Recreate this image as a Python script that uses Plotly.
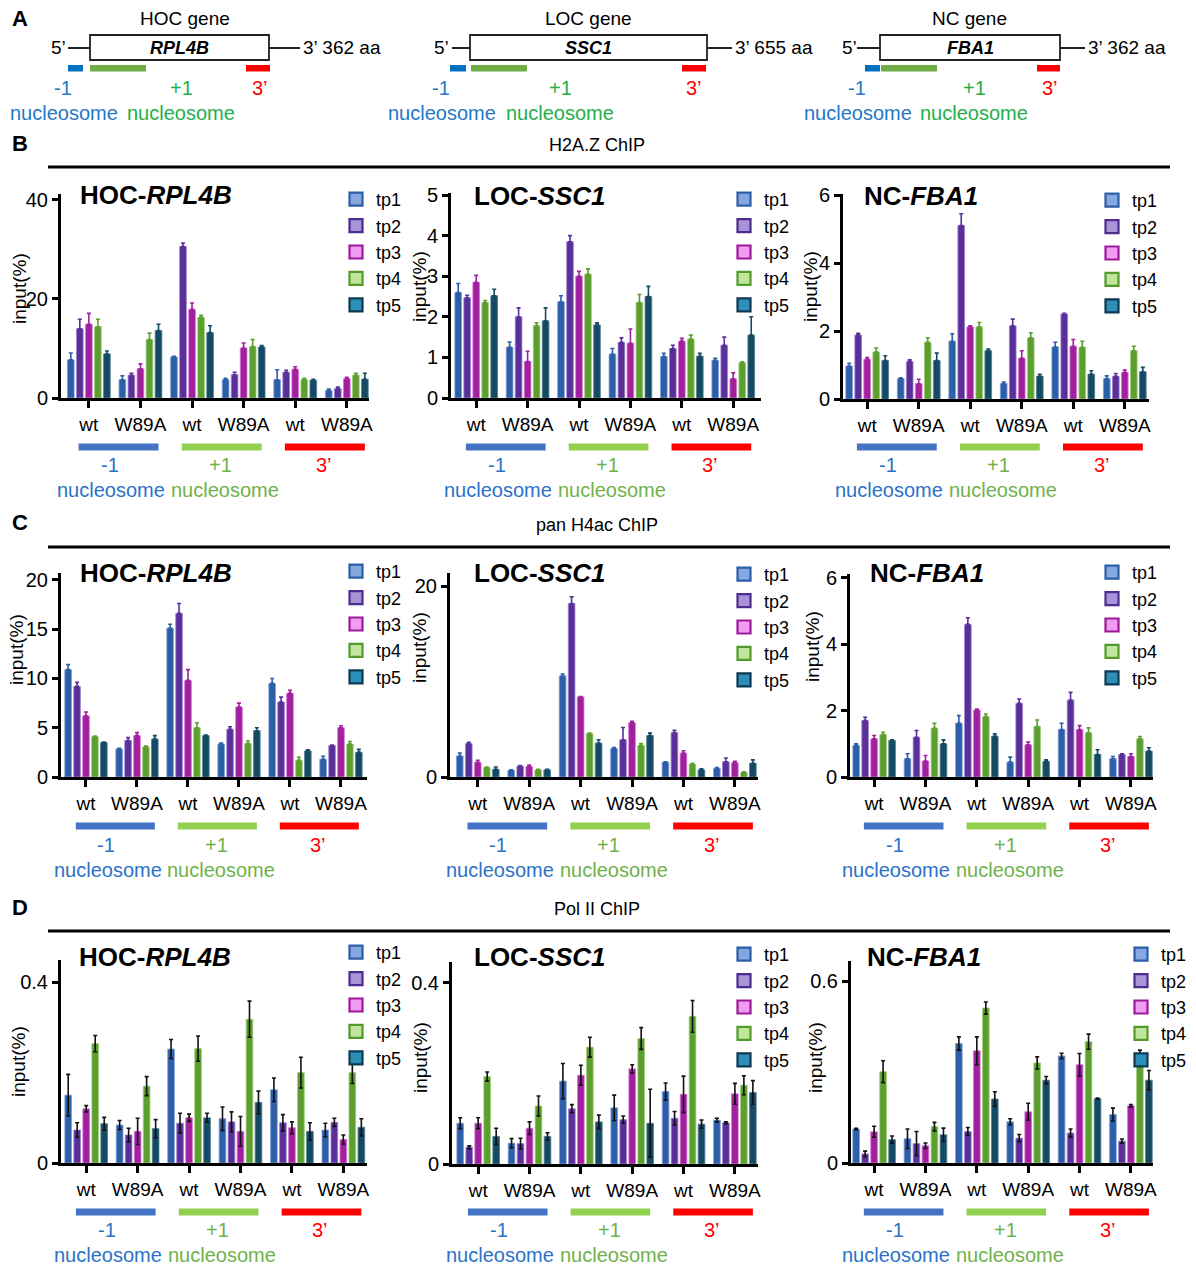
import plotly.graph_objects as go

W, H = 1196, 1266
def px(x): return x / W
def py(y): return 1 - y / H

FONT = "Arial, 'Liberation Sans', Helvetica, sans-serif"

TP_NAMES = ["tp1", "tp2", "tp3", "tp4", "tp5"]
GROUP_TICKS = ["wt", "W89A", "wt", "W89A", "wt", "W89A"]
REGION_LABELS = ["-1", "+1", "3’"]

# ---------- data (rows = tp1..tp5, columns = 6 groups) ----------
H2AZ_HOC_MEAN = [[7.7, 3.7, 8.3, 3.7, 3.7, 1.5],
                 [14.0, 4.6, 30.6, 4.7, 5.2, 1.9],
                 [14.9, 5.9, 17.9, 10.1, 5.8, 3.9],
                 [14.4, 11.8, 16.3, 10.4, 3.7, 4.6],
                 [8.9, 13.6, 13.2, 10.3, 3.6, 3.8]]
H2AZ_HOC_ERR = [[1.4, 0.8, 0.1, 0.3, 2.0, 0.3],
                [1.9, 0.4, 0.7, 0.5, 0.4, 0.3],
                [2.2, 1.0, 1.3, 1.0, 0.5, 0.3],
                [1.5, 1.3, 0.4, 1.4, 0.3, 0.4],
                [0.6, 1.3, 1.4, 0.3, 0.2, 1.2]]
H2AZ_LOC_MEAN = [[2.6, 1.25, 2.37, 1.08, 1.02, 0.93],
                 [2.47, 2.0, 3.85, 1.37, 1.22, 1.3],
                 [2.85, 0.9, 3.0, 1.35, 1.4, 0.47],
                 [2.35, 1.78, 3.05, 2.35, 1.45, 0.87],
                 [2.52, 1.9, 1.8, 2.5, 1.03, 1.55]]
H2AZ_LOC_ERR = [[0.22, 0.13, 0.15, 0.14, 0.08, 0.05],
                [0.06, 0.22, 0.15, 0.11, 0.08, 0.2],
                [0.17, 0.25, 0.12, 0.35, 0.07, 0.15],
                [0.05, 0.07, 0.13, 0.2, 0.1, 0.02],
                [0.16, 0.32, 0.05, 0.25, 0.07, 0.45]]
H2AZ_NC_MEAN = [[0.97, 0.6, 1.7, 0.45, 1.53, 0.6],
                [1.88, 1.1, 5.1, 2.15, 2.5, 0.67],
                [1.17, 0.45, 2.12, 1.2, 1.55, 0.78],
                [1.38, 1.67, 2.12, 1.8, 1.52, 1.42],
                [1.13, 1.13, 1.42, 0.67, 0.73, 0.8]]
H2AZ_NC_ERR = [[0.08, 0.02, 0.22, 0.05, 0.14, 0.08],
               [0.05, 0.05, 0.35, 0.2, 0.02, 0.08],
               [0.05, 0.13, 0.03, 0.22, 0.2, 0.07],
               [0.12, 0.13, 0.13, 0.15, 0.18, 0.13],
               [0.14, 0.22, 0.05, 0.06, 0.1, 0.13]]

H4AC_HOC_MEAN = [[10.9, 2.85, 15.1, 3.35, 9.5, 1.8],
                 [9.2, 3.7, 16.6, 4.85, 7.6, 3.2],
                 [6.2, 4.2, 9.8, 7.1, 8.5, 5.0],
                 [4.1, 3.05, 5.0, 3.4, 1.7, 3.35],
                 [3.5, 3.85, 4.2, 4.7, 2.65, 2.5]]
H4AC_HOC_ERR = [[0.5, 0.05, 0.4, 0.1, 0.5, 0.3],
                [0.4, 0.3, 1.0, 0.25, 0.5, 0.05],
                [0.4, 0.3, 1.1, 0.4, 0.3, 0.2],
                [0.05, 0.1, 0.5, 0.25, 0.3, 0.25],
                [0.05, 0.35, 0.05, 0.3, 0.1, 0.3]]
H4AC_LOC_MEAN = [[2.2, 0.7, 10.6, 3.0, 1.55, 0.9],
                 [3.5, 1.15, 18.2, 3.9, 4.65, 1.6],
                 [1.55, 1.1, 8.4, 5.7, 2.5, 1.5],
                 [1.0, 0.75, 4.55, 3.3, 1.35, 0.5],
                 [0.8, 0.75, 3.55, 4.35, 0.75, 1.45]]
H4AC_LOC_ERR = [[0.3, 0.05, 0.2, 0.1, 0.05, 0.1],
                [0.15, 0.05, 0.7, 1.3, 0.25, 0.4],
                [0.2, 0.15, 0.05, 0.15, 0.25, 0.15],
                [0.05, 0.05, 0.05, 0.2, 0.1, 0.05],
                [0.25, 0.05, 0.35, 0.25, 0.1, 0.35]]
H4AC_NC_MEAN = [[0.95, 0.55, 1.62, 0.45, 1.43, 0.55],
                [1.7, 1.2, 4.6, 2.22, 2.32, 0.68],
                [1.15, 0.48, 2.02, 0.97, 1.43, 0.62],
                [1.28, 1.47, 1.82, 1.52, 1.33, 1.15],
                [1.1, 1.0, 1.23, 0.47, 0.68, 0.78]]
H4AC_NC_ERR = [[0.05, 0.15, 0.23, 0.15, 0.19, 0.07],
               [0.1, 0.2, 0.2, 0.13, 0.23, 0.02],
               [0.1, 0.17, 0.03, 0.08, 0.12, 0.08],
               [0.07, 0.15, 0.08, 0.2, 0.15, 0.07],
               [0.02, 0.12, 0.07, 0.05, 0.14, 0.1]]

POL2_HOC_MEAN = [[0.150, 0.084, 0.252, 0.098, 0.162, 0.073],
                 [0.073, 0.062, 0.088, 0.091, 0.089, 0.090],
                 [0.120, 0.070, 0.100, 0.070, 0.078, 0.052],
                 [0.264, 0.170, 0.253, 0.318, 0.200, 0.200],
                 [0.087, 0.076, 0.100, 0.134, 0.070, 0.079]]
POL2_HOC_ERR = [[0.046, 0.010, 0.021, 0.026, 0.026, 0.015],
                [0.016, 0.015, 0.022, 0.022, 0.018, 0.009],
                [0.007, 0.029, 0.008, 0.033, 0.013, 0.010],
                [0.018, 0.021, 0.028, 0.040, 0.034, 0.024],
                [0.014, 0.020, 0.010, 0.025, 0.019, 0.019]]
POL2_LOC_MEAN = [[0.090, 0.046, 0.183, 0.124, 0.160, 0.097],
                 [0.037, 0.045, 0.122, 0.098, 0.101, 0.091],
                 [0.090, 0.079, 0.196, 0.210, 0.154, 0.155],
                 [0.193, 0.128, 0.258, 0.277, 0.326, 0.174],
                 [0.061, 0.061, 0.093, 0.090, 0.088, 0.158]]
POL2_LOC_ERR = [[0.012, 0.010, 0.039, 0.028, 0.019, 0.004],
                [0.003, 0.012, 0.009, 0.008, 0.015, 0.002],
                [0.012, 0.014, 0.022, 0.009, 0.040, 0.023],
                [0.010, 0.022, 0.022, 0.024, 0.035, 0.021],
                [0.018, 0.008, 0.015, 0.075, 0.009, 0.026]]
POL2_NC_MEAN = [[0.112, 0.080, 0.394, 0.136, 0.353, 0.160],
                [0.030, 0.064, 0.104, 0.082, 0.099, 0.072],
                [0.103, 0.057, 0.370, 0.169, 0.324, 0.189],
                [0.301, 0.120, 0.511, 0.330, 0.400, 0.354],
                [0.077, 0.093, 0.211, 0.273, 0.212, 0.273]]
POL2_NC_ERR = [[0.002, 0.032, 0.022, 0.010, 0.009, 0.021],
               [0.009, 0.040, 0.013, 0.012, 0.013, 0.007],
               [0.018, 0.009, 0.046, 0.028, 0.037, 0.004],
               [0.036, 0.014, 0.020, 0.020, 0.025, 0.018],
               [0.012, 0.022, 0.024, 0.012, 0.002, 0.032]]

# ---------- styles ----------
BAR_FILL = ["#2d5ea8", "#5a2f9a", "#a1209e", "#5c9e30", "#154a62"]
BAR_EDGE = ["#7d9ed6", "#9c84cc", "#d775d6", "#a0cf78", "#4f8098"]
LEG_FILL = ["#86a8e0", "#a994d8", "#f09cf0", "#c2e59e", "#2d8fb8"]
LEG_EDGE = ["#2d5ea8", "#4e2b8e", "#9c1a9a", "#529a2c", "#0e3a54"]
REG_BAR = ["#4472c4", "#92d050", "#ff0000"]
REG_TXT = ["#2a72c8", "#6fb24a", "#ff0000"]
PITCH, BW = 0.175, 0.13

# chart layout specs (pixels): x0, x1, ytop, ybot, ranges, legend x / first item y, y-title x / y, title x / y
CHARTS = [
    (H2AZ_HOC_MEAN, H2AZ_HOC_ERR, False, "HOC-", "RPL4B", 61, 369, 194, 398, [-0.54, 5.43], [0, 41.2], [0, 20, 40], ["0", "20", "40"], 336, 196, 20, 289, 78, 195),
    (H2AZ_LOC_MEAN, H2AZ_LOC_ERR, False, "LOC-", "SSC1", 451, 761, 193, 398, [-0.49, 5.54], [0, 5.05], [0, 1, 2, 3, 4, 5], ["0", "1", "2", "3", "4", "5"], 724, 196, 419, 287, 472, 196),
    (H2AZ_NC_MEAN, H2AZ_NC_ERR, False, "NC-", "FBA1", 843, 1149, 194, 399, [-0.47, 5.47], [0, 6.03], [0, 2, 4, 6], ["0", "2", "4", "6"], 1092, 197, 810, 287, 862, 196),
    (H4AC_HOC_MEAN, H4AC_HOC_ERR, False, "HOC-", "RPL4B", 61, 367, 573, 777, [-0.49, 5.51], [0, 20.7], [0, 5, 10, 15, 20], ["0", "5", "10", "15", "20"], 336, 568, 16, 650, 78, 573),
    (H4AC_LOC_MEAN, H4AC_LOC_ERR, False, "LOC-", "SSC1", 450, 758, 573, 777, [-0.54, 5.45], [0, 21.4], [0, 20], ["0", "20"], 724, 571, 419, 648, 472, 573),
    (H4AC_NC_MEAN, H4AC_NC_ERR, False, "NC-", "FBA1", 850, 1153, 574, 777, [-0.47, 5.43], [0, 6.12], [0, 2, 4, 6], ["0", "2", "4", "6"], 1092, 569, 812, 647, 868, 573),
    (POL2_HOC_MEAN, POL2_HOC_ERR, True, "HOC-", "RPL4B", 61, 367, 960, 1163, [-0.49, 5.46], [0, 0.449], [0, 0.4], ["0", "0.4"], 336, 949, 18, 1062, 77, 957),
    (POL2_LOC_MEAN, POL2_LOC_ERR, True, "LOC-", "SSC1", 452, 758, 962, 1164, [-0.51, 5.45], [0, 0.446], [0, 0.4], ["0", "0.4"], 724, 951, 420, 1058, 472, 957),
    (POL2_NC_MEAN, POL2_NC_ERR, True, "NC-", "FBA1", 851, 1153, 961, 1163, [-0.45, 5.43], [0, 0.666], [0, 0.6], ["0", "0.6"], 1121, 951, 815, 1058, 865, 957),
]
ROW_DECOR = [(447, 465, 490), (826, 845, 870), (1212, 1230, 1255)]
ROW_TITLES = [("H2A.Z ChIP", 145, 167, "B", 143), ("pan H4ac ChIP", 525, 547, "C", 523), ("Pol II ChIP", 909, 931, "D", 907)]

fig = go.Figure()
annotations = []
shapes = []
layout = {}

for k, (mean, err, sym, prefix, gene, x0, x1, ytop, ybot, xr, yr, yt, ytt, lgx, lgy, ylabx, ylaby, titx, tity) in enumerate(CHARTS, start=1):
    xa = "x" if k == 1 else f"x{k}"
    ya = "y" if k == 1 else f"y{k}"
    lg = "legend" if k == 1 else f"legend{k}"
    for i, tp in enumerate(TP_NAMES):
        if sym:
            eb = dict(type="data", array=err[i], symmetric=True, color="#111111", thickness=1.6, width=2)
        else:
            eb = dict(type="data", array=err[i], arrayminus=[0] * len(err[i]), symmetric=False,
                      color=BAR_FILL[i], thickness=1.6, width=2)
        fig.add_trace(go.Bar(
            x=list(range(len(GROUP_TICKS))), y=mean[i], xaxis=xa, yaxis=ya,
            offset=(i - 2) * PITCH - BW / 2, width=BW,
            marker=dict(color=BAR_FILL[i], line=dict(color=BAR_EDGE[i], width=0.8)),
            error_y=eb, showlegend=False, name=tp))
        fig.add_trace(go.Scatter(
            x=[None], y=[None], xaxis=xa, yaxis=ya, mode="markers", name=tp, legend=lg,
            marker=dict(symbol="square", size=13, color=LEG_FILL[i], line=dict(color=LEG_EDGE[i], width=2.2)),
            showlegend=True))
    xkey = "xaxis" if k == 1 else f"xaxis{k}"
    ykey = "yaxis" if k == 1 else f"yaxis{k}"
    layout[xkey] = dict(domain=[px(x0), px(x1)], anchor=ya, range=xr, fixedrange=True, automargin=False,
                        tickvals=list(range(len(GROUP_TICKS))), ticktext=GROUP_TICKS,
                        showline=True, linecolor="black", linewidth=3, mirror=False,
                        ticks="outside", ticklen=7, tickwidth=3, tickcolor="black",
                        showgrid=False, zeroline=False,
                        tickfont=dict(family=FONT, size=19, color="black"))
    layout[ykey] = dict(domain=[py(ybot), py(ytop)], anchor=xa, range=yr, fixedrange=True, automargin=False,
                        tickvals=yt, ticktext=ytt,
                        showline=True, linecolor="black", linewidth=3,
                        ticks="outside", ticklen=6, tickwidth=2.5, tickcolor="black",
                        showgrid=False, zeroline=False,
                        tickfont=dict(family=FONT, size=20, color="black"))
    layout[lg] = dict(x=px(lgx), y=py(lgy - 15), xanchor="left", yanchor="top",
                      bgcolor="rgba(0,0,0,0)", borderwidth=0, tracegroupgap=0,
                      font=dict(family=FONT, size=18, color="black"), itemclick=False, itemdoubleclick=False)
    annotations.append(dict(text=f"<b>{prefix}<i>{gene}</i></b>", x=px(titx), y=py(tity), xref="paper", yref="paper",
                            xanchor="left", yanchor="middle", showarrow=False,
                            font=dict(family=FONT, size=26, color="black")))
    annotations.append(dict(text="input(%)", x=px(ylabx), y=py(ylaby), xref="paper", yref="paper",
                            textangle=-90, xanchor="center", yanchor="middle", showarrow=False,
                            font=dict(family=FONT, size=19, color="black")))
    bar_y, lab_y, nuc_y = ROW_DECOR[(k - 1) // 3]
    for r in range(3):
        shapes.append(dict(type="rect", xref=xa, yref="paper", x0=2 * r - 0.2, x1=2 * r + 1.35,
                           y0=py(bar_y + 3.5), y1=py(bar_y - 3.5), fillcolor=REG_BAR[r], line=dict(width=0)))
        annotations.append(dict(text=REGION_LABELS[r], x=2 * r + 0.4 + (0.15 if r > 0 else 0), y=py(lab_y),
                                xref=xa, yref="paper", xanchor="center", yanchor="middle", showarrow=False,
                                font=dict(family=FONT, size=20, color=REG_TXT[r])))
    annotations.append(dict(text="nucleosome", x=0.43, y=py(nuc_y), xref=xa, yref="paper", xanchor="center",
                            yanchor="middle", showarrow=False, font=dict(family=FONT, size=20, color=REG_TXT[0])))
    annotations.append(dict(text="nucleosome", x=2.64, y=py(nuc_y), xref=xa, yref="paper", xanchor="center",
                            yanchor="middle", showarrow=False, font=dict(family=FONT, size=20, color=REG_TXT[1])))

for title, ty, ly, letter, lety in ROW_TITLES:
    annotations.append(dict(text=title, x=px(597), y=py(ty), xref="paper", yref="paper", showarrow=False,
                            xanchor="center", yanchor="middle", font=dict(family=FONT, size=18, color="black")))
    shapes.append(dict(type="line", xref="paper", yref="paper", x0=px(48), x1=px(1170), y0=py(ly), y1=py(ly),
                       line=dict(color="black", width=3)))
    annotations.append(dict(text=f"<b>{letter}</b>", x=px(20), y=py(lety), xref="paper", yref="paper", showarrow=False,
                            xanchor="center", yanchor="middle", font=dict(family=FONT, size=22, color="black")))
annotations.append(dict(text="<b>A</b>", x=px(20), y=py(18), xref="paper", yref="paper", showarrow=False,
                        xanchor="center", yanchor="middle", font=dict(family=FONT, size=22, color="black")))

# ---------- panel A gene diagrams ----------
GENE_CLASSES = ["HOC gene", "LOC gene", "NC gene"]
GENE_NAMES = ["RPL4B", "SSC1", "FBA1"]
GENE_LENGTHS = ["362 aa", "655 aa", "362 aa"]
GENE_POS = [
    (185, 58, 68, 90, 269, 300, (68, 83), (90, 146), (246, 270), (63, 181, 260), (64, 181)),
    (588, 441, 452, 470, 707, 732, (450, 466), (471, 527), (682, 706), (441, 560, 694), (442, 560)),
    (969, 849, 857, 880, 1060, 1085, (865, 880), (881, 937), (1037, 1060), (857, 974, 1050), (858, 974)),
]
A_BAR = ["#0070c0", "#70ad47", "#ff0000"]
A_TXT = ["#1f78c8", "#22b04b", "#ff0000"]
for g, (tx, x5, l0, b0, b1, l1, bb, gb, rb, labs, nucs) in enumerate(GENE_POS):
    annotations.append(dict(text=GENE_CLASSES[g], x=px(tx), y=py(19), xref="paper", yref="paper", showarrow=False,
                            xanchor="center", yanchor="middle", font=dict(family=FONT, size=19, color="black")))
    shapes.append(dict(type="line", xref="paper", yref="paper", x0=px(l0), x1=px(b0), y0=py(48), y1=py(48),
                       line=dict(color="#222222", width=2)))
    shapes.append(dict(type="line", xref="paper", yref="paper", x0=px(b1), x1=px(l1), y0=py(48), y1=py(48),
                       line=dict(color="#222222", width=2)))
    shapes.append(dict(type="rect", xref="paper", yref="paper", x0=px(b0), x1=px(b1), y0=py(60), y1=py(35),
                       line=dict(color="#222222", width=1.8), fillcolor="white"))
    annotations.append(dict(text=f"<b><i>{GENE_NAMES[g]}</i></b>", x=px((b0 + b1) / 2), y=py(48), xref="paper",
                            yref="paper", showarrow=False, xanchor="center", yanchor="middle",
                            font=dict(family=FONT, size=18, color="black")))
    annotations.append(dict(text="5’", x=px(x5), y=py(47), xref="paper", yref="paper", showarrow=False,
                            xanchor="center", yanchor="middle", font=dict(family=FONT, size=19, color="black")))
    annotations.append(dict(text=f"3’ {GENE_LENGTHS[g]}", x=px(l1 + 1), y=py(47), xref="paper", yref="paper",
                            showarrow=False, xanchor="left", yanchor="middle",
                            font=dict(family=FONT, size=19, color="black")))
    for r, (a, b) in enumerate([bb, gb, rb]):
        shapes.append(dict(type="rect", xref="paper", yref="paper", x0=px(a), x1=px(b), y0=py(71.5), y1=py(65),
                           fillcolor=A_BAR[r], line=dict(width=0)))
        annotations.append(dict(text=REGION_LABELS[r], x=px(labs[r]), y=py(88), xref="paper", yref="paper",
                                showarrow=False, xanchor="center", yanchor="middle",
                                font=dict(family=FONT, size=20, color=A_TXT[r])))
    for r in range(2):
        annotations.append(dict(text="nucleosome", x=px(nucs[r]), y=py(113), xref="paper", yref="paper",
                                showarrow=False, xanchor="center", yanchor="middle",
                                font=dict(family=FONT, size=20, color=A_TXT[r])))

fig.update_layout(
    width=W, height=H, margin=dict(l=0, r=0, t=0, b=0, pad=0, autoexpand=False),
    paper_bgcolor="white", plot_bgcolor="white",
    barmode="overlay", font=dict(family=FONT, color="black"),
    annotations=annotations, shapes=shapes, **layout)

fig.write_html("out.html", config={"displayModeBar": False},
               post_script="document.body.style.margin='0';document.body.style.overflow='hidden';")
